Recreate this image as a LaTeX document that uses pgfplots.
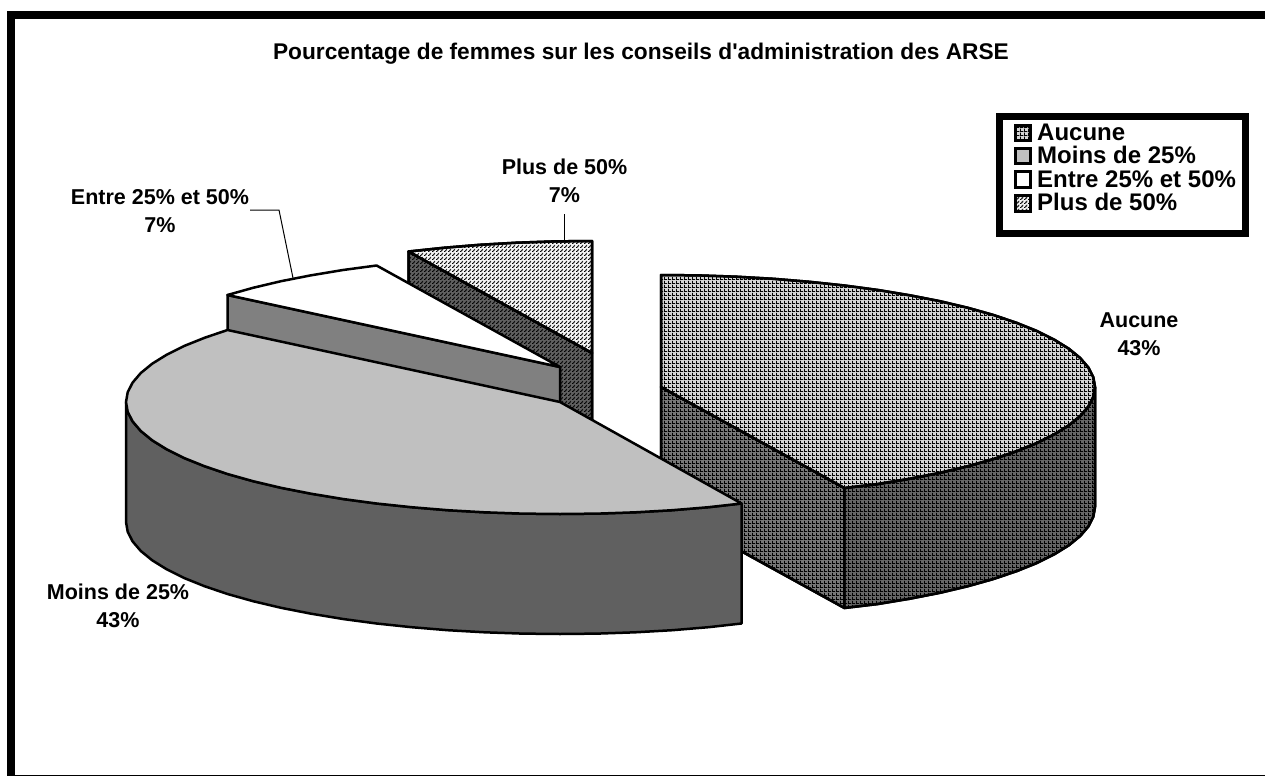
\documentclass[border=0pt]{standalone}
\usepackage{fontspec}
\usepackage{pgfplots}
\pgfplotsset{compat=1.18}
\usetikzlibrary{patterns}
\newfontfamily\lsans{Liberation Sans}
\definecolor{moinstop}{HTML}{C0C0C0}
\definecolor{moinsside}{HTML}{606060}
\definecolor{entreside}{HTML}{808080}
\definecolor{auctop}{HTML}{D4D4D4}
\definecolor{aucside}{HTML}{787878}
\definecolor{plustop}{HTML}{F4F4F4}
\definecolor{plusside}{HTML}{606060}
\tikzset{
  piece/.style={draw=black, line width=2.5bp},
  solid block/.style={draw=none, fill=black, line width=0pt},
  lab/.style={font=\lsans\bfseries\fontsize{21.5bp}{25bp}\selectfont, text=black, inner sep=0pt},
  leg/.style={font=\lsans\bfseries\fontsize{24bp}{26bp}\selectfont, text=black, inner sep=0pt, anchor=base west},
}
% fine 4px tiles, same as the screen patterns of the original
\pgfdeclarepatternformonly{gridfine}{\pgfqpoint{0bp}{0bp}}{\pgfqpoint{4bp}{4bp}}{\pgfqpoint{4bp}{4bp}}{
  \pgfpathrectangle{\pgfqpoint{0bp}{0bp}}{\pgfqpoint{4bp}{1bp}}
  \pgfpathrectangle{\pgfqpoint{0bp}{1bp}}{\pgfqpoint{1bp}{3bp}}
  \pgfusepath{fill}}
\pgfdeclarepatternformonly{stairfine}{\pgfqpoint{0bp}{0bp}}{\pgfqpoint{4bp}{4bp}}{\pgfqpoint{4bp}{4bp}}{
  \pgfpathrectangle{\pgfqpoint{0bp}{0bp}}{\pgfqpoint{1.7bp}{1bp}}
  \pgfpathrectangle{\pgfqpoint{1bp}{1bp}}{\pgfqpoint{1.7bp}{1bp}}
  \pgfpathrectangle{\pgfqpoint{2bp}{2bp}}{\pgfqpoint{1.7bp}{1bp}}
  \pgfpathrectangle{\pgfqpoint{3bp}{3bp}}{\pgfqpoint{1bp}{1bp}}
  \pgfusepath{fill}}
\begin{document}
\begin{tikzpicture}
\begin{axis}[
  scale only axis, width=1265bp, height=776bp,
  xmin=0, xmax=1265, ymin=0, ymax=776, y dir=reverse,
  hide axis, clip=false,
  every axis plot/.append style={line join=round},
]
% white page, also holds the picture's bounding box
\addplot[draw=none, fill=white, line width=0pt, forget plot] coordinates {(0,0)(1265,0)(1265,776)(0,776)} -- cycle;
% outer frame, open on the right
\addplot[solid block, forget plot] coordinates {(7,11)(15,11)(15,776)(7,776)} -- cycle;
\addplot[solid block, forget plot] coordinates {(7,11)(1265,11)(1265,19)(7,19)} -- cycle;
\addplot[solid block, forget plot] coordinates {(7,774.5)(1265,774.5)(1265,776)(7,776)} -- cycle;

% Plus de 50% : cut face then top
\addplot[piece, preaction={fill=plusside}, pattern=stairfine] coordinates {(408.6,251.5)(592,353)(592,473)(408.6,371.5)} -- cycle;
\addplot[piece, preaction={fill=plustop}, pattern=stairfine] coordinates {(592,353)(408.6,251.5)(443.6,247.8)(479.7,244.8)(516.6,242.7)(554.2,241.4)(592,241)} -- cycle;

% Entre 25% et 50%
\addplot[piece, fill=entreside] coordinates {(227.5,295)(560,367)(560,487)(227.5,415)} -- cycle;
\addplot[piece, fill=white] coordinates {(560,367)(227.5,295)(253.1,287.8)(281,281.2)(311.1,275.3)(343,270)(376.6,265.5)} -- cycle;

% Aucune : cut face, outer face, top
\addplot[piece, preaction={fill=aucside}, pattern=gridfine] coordinates {(661,387)(844.4,488)(844.4,608)(661,507)} -- cycle;
\addplot[piece, preaction={fill=aucside!85!black}, pattern=gridfine] coordinates {
  (1095,387)(1093.3,396.8)(1088.4,406.4)(1080.2,416)(1068.8,425.3)(1054.3,434.3)(1036.9,443)(1016.5,451.2)
  (993.5,459)(967.9,466.2)(940,472.8)(909.9,478.7)(878,484)(844.4,488)
  (844.4,608)(878,604)(909.9,598.7)(940,592.8)(967.9,586.2)(993.5,579)(1016.5,571.2)(1036.9,563)
  (1054.3,554.3)(1068.8,545.3)(1080.2,536)(1088.4,526.4)(1093.3,516.8)(1095,507)} -- cycle;
\addplot[piece, preaction={fill=auctop}, pattern=gridfine] coordinates {
  (661,387)(661,275)(698.8,275.4)(736.4,276.7)(773.3,278.8)(809.4,281.8)(844.4,285.5)(878,290)(909.9,295.3)
  (940,301.2)(967.9,307.8)(993.5,315)(1016.5,322.8)(1036.9,331)(1054.3,339.7)(1068.8,348.7)(1080.2,358)
  (1088.4,367.6)(1093.3,377.2)(1095,387)(1093.3,396.8)(1088.4,406.4)(1080.2,416)(1068.8,425.3)(1054.3,434.3)
  (1036.9,443)(1016.5,451.2)(993.5,459)(967.9,466.2)(940,472.8)(909.9,478.7)(878,484)(844.4,488)} -- cycle;

% Moins de 25%
\addplot[piece, fill=moinsside] coordinates {
  (741.5,503.5)(708.4,507.2)(672.3,510.2)(635.4,512.3)(597.8,513.6)(560,514)(522.2,513.6)(484.6,512.3)
  (447.7,510.2)(411.6,507.2)(376.6,503.5)(343,499)(311.1,493.7)(281,487.8)(253.1,481.2)(227.5,474)
  (204.5,466.2)(184.1,458)(166.7,449.3)(152.2,440.3)(140.8,431)(132.6,421.4)(127.7,411.8)(126,402)
  (126,522)(127.7,531.8)(132.6,541.4)(140.8,551)(152.2,560.3)(166.7,569.3)(184.1,578)(204.5,586.2)
  (227.5,594)(253.1,601.2)(281,607.8)(311.1,613.7)(343,619)(376.6,623.5)(411.6,627.2)(447.7,630.2)
  (484.6,632.3)(522.2,633.6)(560,634)(597.8,633.6)(635.4,632.3)(672.3,630.2)(708.4,627.2)(741.5,623.5)} -- cycle;
\addplot[piece, fill=moinstop] coordinates {
  (560,402)(741.5,503.5)(708.4,507.2)(672.3,510.2)(635.4,512.3)(597.8,513.6)(560,514)(522.2,513.6)(484.6,512.3)
  (447.7,510.2)(411.6,507.2)(376.6,503.5)(343,499)(311.1,493.7)(281,487.8)(253.1,481.2)(227.5,474)
  (204.5,466.2)(184.1,458)(166.7,449.3)(152.2,440.3)(140.8,431)(132.6,421.4)(127.7,411.8)(126,402)
  (127.7,392.2)(132.6,382.6)(140.8,373)(152.2,363.7)(166.7,354.7)(184.1,346)(204.5,337.8)(227.5,330)} -- cycle;

% leader lines
\addplot[black, line width=1bp] coordinates {(564,214)(564,241)};
\addplot[black, line width=1bp] coordinates {(250,210)(279,210)(293,278)};

% legend box
\addplot[black, line width=7bp, fill=white, line join=miter] coordinates {(999.5,116.5)(1245.5,116.5)(1245.5,233.5)(999.5,233.5)} -- cycle;
\addplot[draw=black, line width=3bp, line join=miter, preaction={fill=auctop}, pattern=gridfine] coordinates {(1015.5,125.5)(1030.5,125.5)(1030.5,141)(1015.5,141)} -- cycle;
\addplot[draw=black, line width=3bp, line join=miter, fill=moinstop] coordinates {(1015.5,149)(1030.5,149)(1030.5,164)(1015.5,164)} -- cycle;
\addplot[draw=black, line width=3bp, line join=miter, fill=white] coordinates {(1015.5,172)(1030.5,172)(1030.5,187)(1015.5,187)} -- cycle;
\addplot[draw=black, line width=3bp, line join=miter, preaction={fill=plustop}, pattern=stairfine] coordinates {(1015.5,195)(1030.5,195)(1030.5,211)(1015.5,211)} -- cycle;
\node[leg] at (axis cs:1037,141) {Aucune};
\node[leg] at (axis cs:1037,164) {Moins de 25\%};
\node[leg] at (axis cs:1037,188) {Entre 25\% et 50\%};
\node[leg] at (axis cs:1037,211) {Plus de 50\%};

% title and slice labels
\node[lab, font=\lsans\bfseries\fontsize{22.7bp}{26bp}\selectfont] at (axis cs:641,54) {Pourcentage de femmes sur les conseils d'administration des ARSE};
\node[lab] at (axis cs:564.5,167) {Plus de 50\%};
\node[lab] at (axis cs:564.5,195) {7\%};
\node[lab] at (axis cs:160,197) {Entre 25\% et 50\%};
\node[lab] at (axis cs:160,225) {7\%};
\node[lab] at (axis cs:1139,320) {Aucune};
\node[lab] at (axis cs:1139,348) {43\%};
\node[lab] at (axis cs:118,592) {Moins de 25\%};
\node[lab] at (axis cs:118,620) {43\%};
\end{axis}
\end{tikzpicture}
\end{document}
